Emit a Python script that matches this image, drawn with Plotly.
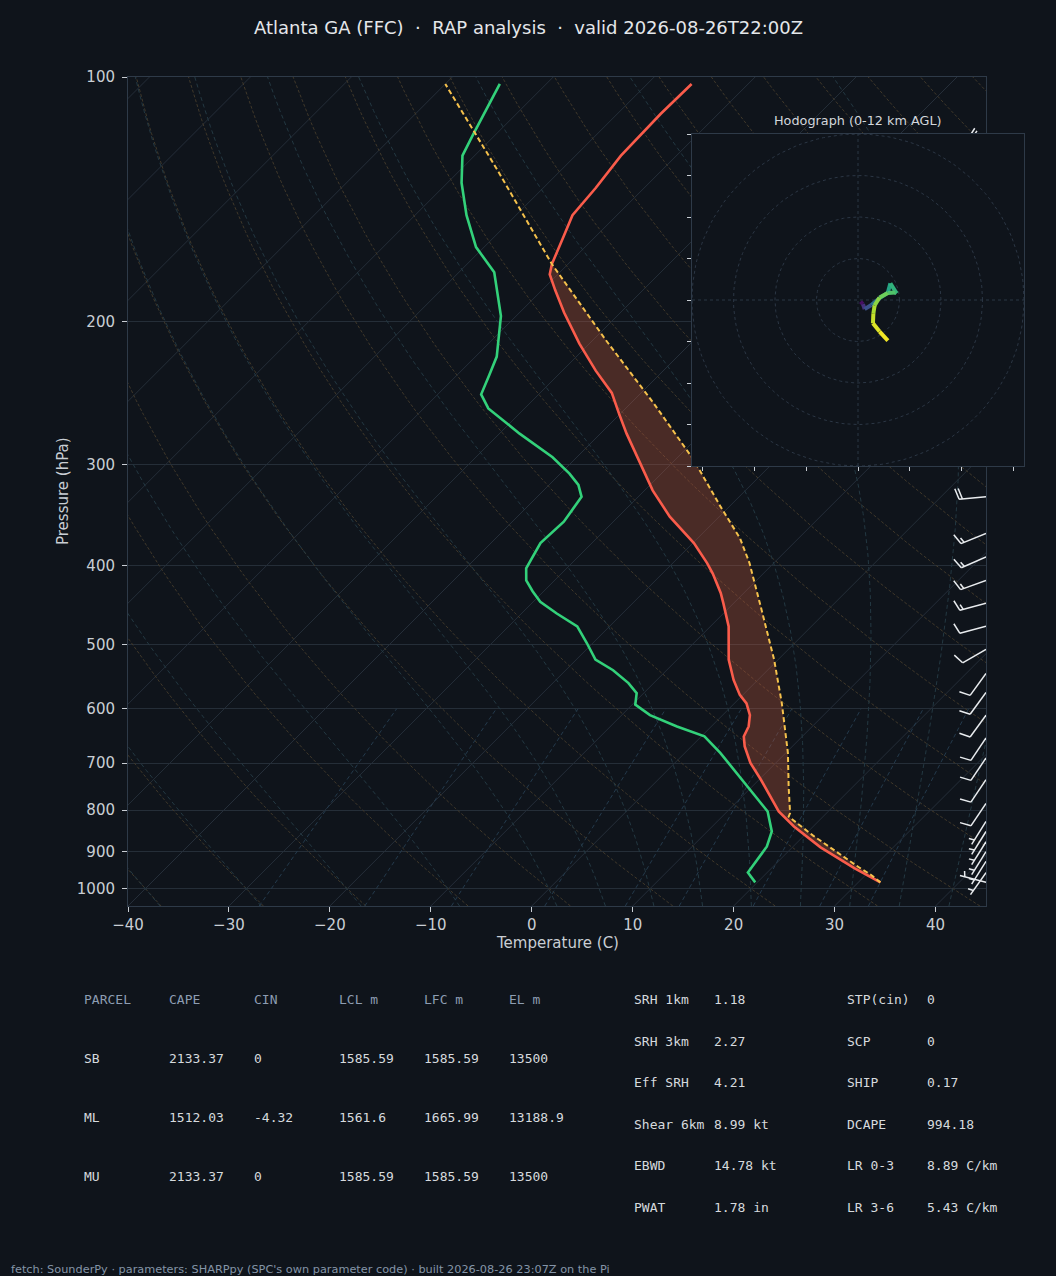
import numpy as np
import plotly.graph_objects as go
from plotly.colors import sample_colorscale

W, H = 1056, 1276
BG = '#0f141b'
FRAME = '#2e3a48'
TICK = '#c9ced4'
SANS = 'DejaVu Sans'
MONO = 'DejaVu Sans Mono'

# pixel boxes (left, top, right, bottom)
MAIN = (128, 77, 986, 906)
HODO = (692, 134, 1024, 466)
T_MIN, T_MAX = -40, 45
P_BOT, P_TOP = 1050, 100

# --- sounding ---
t_p = [982, 943, 889, 838, 803, 734, 700, 668, 649, 631, 611, 591, 577, 553, 522, 475, 445, 432, 409,
       397, 375, 348, 323, 299, 275, 260, 245, 230, 213, 195, 183, 175, 170, 157, 148, 137, 125, 111, 102]
t_t = [32.2, 28.2, 22.8, 18.1, 15.1, 10.2, 7.5, 5.3, 4.2, 3.7, 2.7, 1.2, -0.3, -2.4, -4.9, -8.2, -11.0, -12.3, -15.0,
       -16.6, -19.9, -24.9, -29.2, -33.1, -37.4, -40.1, -42.9, -46.7, -51.0, -55.6, -58.7, -60.8, -61.6, -63.2, -64.4,
       -64.8, -65.5, -65.7, -65.6]

d_p = [982, 955, 887, 850, 803, 748, 680, 649, 631, 611, 593, 574, 558, 538, 522, 498, 475, 458, 443, 430, 417,
       403, 375, 353, 329, 318, 308, 294, 275, 256, 246, 233, 221, 197, 174, 162, 148, 135, 125, 118, 102]
d_t = [19.8, 18.1, 17.4, 16.4, 14.0, 9.5, 3.5, 0.3, -3.4, -7.2, -9.7, -10.7, -12.5, -15.3, -18.1, -20.6, -23.2,
       -26.5, -29.3, -31.1, -32.8, -34.0, -35.1, -34.9, -35.6, -37.1, -39.1, -42.4, -48.0, -53.6, -55.7, -56.8,
       -57.9, -61.5, -66.5, -70.8, -74.9, -78.6, -81.2, -82.2, -84.6]

par_p = [982, 961, 940, 900, 860, 815, 807, 750, 680, 591, 522, 453, 425, 397, 370, 338, 296, 252, 211, 170, 130, 102]
par_t = [32.2, 30.5, 28.5, 24.8, 20.9, 16.6, 16.4, 13.7, 10.2, 4.7, -0.4, -6.6, -9.4, -12.4, -15.8, -20.9, -28.2,
         -37.8, -48.7, -61.6, -76.4, -90.0]
el_p = 170

# wind barbs (pressure hPa, direction deg, speed kt)
wb_p = [126, 150, 180, 215, 255, 292, 329, 365, 390, 417, 445, 475, 507, 543, 573, 611, 652, 690, 734, 785,
        826, 850, 875, 900, 925, 955, 982]
wb_dir = [320, 305, 290, 275, 268, 265, 265, 248, 246, 250, 255, 255, 240, 216, 216, 216, 214, 214, 214, 214,
          212, 212, 212, 212, 212, 215, 285]
wb_spd = [20, 20, 20, 20, 20, 20, 20, 15, 15, 15, 15, 10, 10, 10, 10, 10, 10, 10, 10, 10, 5, 5, 5, 5, 5, 5, 5]

# hodograph (height km, u, v)
hod_h = [0, 1.0, 2.5, 3.5, 5.5, 6.5, 7.5, 8.0, 8.3, 9.0, 9.6, 10.2, 10.8, 11.2, 11.6, 12.0]
hod_u = [0.6, 1.2, 1.6, 3.2, 5.3, 7.2, 7.8, 9.3, 9.0, 7.2, 5.2, 4.0, 3.7, 3.6, 5.2, 7.2]
hod_v = [-0.4, -1.0, -2.2, -1.2, 0.5, 1.8, 4.0, 1.6, 1.8, 1.7, 0.6, -1.3, -3.3, -5.6, -7.6, -9.8]
hod_rings = [10, 20, 30, 40]

# background lines
iso_t = list(range(-120, 41, 10))
dry_t0 = list(range(-40, 201, 10))
moist_t0 = [-40, -30, -20, -10, 0, 5, 10, 15, 20, 25, 30, 35, 40]
mix_w = [0.0004, 0.001, 0.002, 0.004, 0.007, 0.01, 0.016, 0.024, 0.032]
p_grid = [100, 200, 300, 400, 500, 600, 700, 800, 900, 1000]

# tables
parcel_head = ['PARCEL', 'CAPE', 'CIN', 'LCL m', 'LFC m', 'EL m']
parcel_name = ['SB', 'ML', 'MU']
cape = [2133.37, 1512.03, 2133.37]
cin = [0, -4.32, 0]
lcl = [1585.59, 1561.6, 1585.59]
lfc = [1585.59, 1665.99, 1585.59]
el = [13500, 13188.9, 13500]

kin_lab = ['SRH 1km', 'SRH 3km', 'Eff SRH', 'Shear 6km', 'EBWD', 'PWAT']
kin_val = [1.18, 2.27, 4.21, 8.99, 14.78, 1.78]
kin_unit = ['', '', '', ' kt', ' kt', ' in']
thm_lab = ['STP(cin)', 'SCP', 'SHIP', 'DCAPE', 'LR 0-3', 'LR 3-6']
thm_val = [0, 0, 0.17, 994.18, 8.89, 5.43]
thm_unit = ['', '', '', '', ' C/km', ' C/km']

# --- geometry ---
pw = MAIN[2] - MAIN[0]
ph = MAIN[3] - MAIN[1]
px_deg = pw / (T_MAX - T_MIN)
px_dec = ph / np.log10(P_BOT / P_TOP)
K = px_dec / px_deg  # degC shift per decade of pressure (45 deg isotherms)


def skew(t, p):
    return np.asarray(t, float) + K * np.log10(P_BOT / np.asarray(p, float))


def dom(box):
    return [box[0] / W, box[2] / W], [1 - box[3] / H, 1 - box[1] / H]


def moist_lapse(T, p):
    tc = T - 273.15
    es = 6.112 * np.exp(17.67 * tc / (tc + 243.5))
    rs = 0.622 * es / (p - es)
    return (287.04 * T + 2.501e6 * rs) / (p * (1005.7 + 2.501e6 ** 2 * rs * 0.622 / (287.04 * T * T)))


def moist_curves(t0):
    out = []
    for plist in (np.linspace(1000, 100, 181), np.linspace(1000, 1050, 11)):
        T = np.array(t0, float) + 273.15
        res = [T.copy()]
        for i in range(len(plist) - 1):
            p, dp = plist[i], plist[i + 1] - plist[i]
            k1 = moist_lapse(T, p)
            k2 = moist_lapse(T + 0.5 * dp * k1, p + 0.5 * dp)
            k3 = moist_lapse(T + 0.5 * dp * k2, p + 0.5 * dp)
            k4 = moist_lapse(T + dp * k3, p + dp)
            T = T + dp * (k1 + 2 * k2 + 2 * k3 + k4) / 6
            res.append(T.copy())
        out.append((plist, np.array(res) - 273.15))
    (pu, tu), (pd, td) = out
    p_all = np.concatenate([pd[::-1], pu[1:]])
    t_all = np.concatenate([td[::-1], tu[1:]])
    return p_all, t_all


def join(xs_list, ys_list):
    xs, ys = [], []
    for a, b in zip(xs_list, ys_list):
        xs += list(a) + [None]
        ys += list(b) + [None]
    return xs, ys


def barb(x0, y0, d, spd, L=27.0):
    r = np.deg2rad(d)
    s = np.array([np.sin(r), np.cos(r)])
    perp = np.array([s[1], -s[0]])
    base = np.array([x0, y0])
    tip = base + L * s
    segs = [(base, tip)]
    spd = 5 * int(round(spd / 5))
    nfull, rem = divmod(spd % 50, 10)
    sp = 0.125 * L
    off = 0.0
    for _ in range(nfull):
        a = tip - off * s
        segs.append((a, a + 0.4 * L * perp + 0.125 * L * s))
        off += sp
    if rem >= 5:
        if nfull == 0:
            off = 1.5 * sp
        a = tip - off * s
        segs.append((a, a + 0.2 * L * perp + 0.0625 * L * s))
    return [[a[0], b[0]] for a, b in segs], [[a[1], b[1]] for a, b in segs]


fig = go.Figure()

# isotherms
xs, ys = join([[t, t + K * np.log10(P_BOT / P_TOP)] for t in iso_t], [[P_BOT, P_TOP]] * len(iso_t))
fig.add_trace(go.Scatter(x=xs, y=ys, mode='lines', line=dict(color='#252e39', width=1), hoverinfo='skip'))

# dry adiabats
pl = np.geomspace(P_BOT, P_TOP, 60)
xs, ys = join([skew((t0 + 273.15) * (pl / 1000.0) ** 0.2857 - 273.15, pl) for t0 in dry_t0], [pl] * len(dry_t0))
fig.add_trace(go.Scatter(x=xs, y=ys, mode='lines', line=dict(color='#40382a', width=1, dash='3px,2px'),
                         hoverinfo='skip'))

# moist adiabats
mp, mt = moist_curves(moist_t0)
xs, ys = join([skew(mt[:, i], mp) for i in range(len(moist_t0))], [mp] * len(moist_t0))
fig.add_trace(go.Scatter(x=xs, y=ys, mode='lines', line=dict(color='#233842', width=1, dash='4px,3px'),
                         hoverinfo='skip'))

# mixing ratio lines
pm = np.linspace(P_BOT, 600, 20)
mix_x = []
for w in mix_w:
    e = w * pm / (0.622 + w)
    lg = np.log(e / 6.112)
    mix_x.append(skew(243.5 * lg / (17.67 - lg), pm))
xs, ys = join(mix_x, [pm] * len(mix_w))
fig.add_trace(go.Scatter(x=xs, y=ys, mode='lines', line=dict(color='#243a4c', width=1, dash='4px,3px'),
                         hoverinfo='skip'))

# CAPE shading between parcel and environment
pp = np.array(par_p, float)
tp = np.array(t_p, float)
m1 = pp >= el_p
m2 = tp >= el_p
fx = list(skew(np.array(par_t)[m1], pp[m1])) + list(skew(np.array(t_t)[m2], tp[m2])[::-1])
fy = list(pp[m1]) + list(tp[m2][::-1])
fig.add_trace(go.Scatter(x=fx, y=fy, mode='lines', fill='toself', fillcolor='rgba(190,88,62,0.34)',
                         line=dict(width=0), hoverinfo='skip'))

fig.add_trace(go.Scatter(x=skew(t_t, t_p), y=t_p, mode='lines', line=dict(color='#fa5c4b', width=2.6)))
fig.add_trace(go.Scatter(x=skew(d_t, d_p), y=d_p, mode='lines', line=dict(color='#33d17a', width=2.6)))
fig.add_trace(go.Scatter(x=skew(par_t, par_p), y=par_p, mode='lines',
                         line=dict(color='#f5c14c', width=2, dash='5px,3px')))

# wind barbs on a pixel-unit overlay of the main axes
bx, by = [], []
for p, d, s in zip(wb_p, wb_dir, wb_spd):
    y0 = np.log10(P_BOT / p) * px_dec
    sx, sy = barb(pw, y0, d, s)
    for a, b in zip(sx, sy):
        bx += a + [None]
        by += b + [None]
fig.add_trace(go.Scatter(x=bx, y=by, xaxis='x2', yaxis='y2', mode='lines',
                         line=dict(color='#e9ecef', width=1.5), hoverinfo='skip'))

# hodograph (its own subplot gets an opaque background over the skew-T)
R = 40
ang = np.linspace(0, 2 * np.pi, 181)
xs, ys = join([r * np.cos(ang) for r in hod_rings], [r * np.sin(ang) for r in hod_rings])
fig.add_trace(go.Scatter(x=xs, y=ys, xaxis='x3', yaxis='y3', mode='lines',
                         line=dict(color='#2b3644', width=1, dash='3px,3px'), hoverinfo='skip'))
fig.add_trace(go.Scatter(x=[-R, R, None, 0, 0], y=[0, 0, None, -R, R], xaxis='x3', yaxis='y3', mode='lines',
                         line=dict(color='#2b3644', width=1, dash='3px,3px'), hoverinfo='skip'))
for i in range(len(hod_h) - 1):
    c = sample_colorscale('Viridis', [(hod_h[i] + hod_h[i + 1]) / 2 / 12.0])[0]
    fig.add_trace(go.Scatter(x=hod_u[i:i + 2], y=hod_v[i:i + 2], xaxis='x3', yaxis='y3', mode='lines',
                             line=dict(color=c, width=4), hoverinfo='skip'))

mx, my = dom(MAIN)
hx, hy = dom(HODO)
axis_common = dict(showline=True, mirror=True, linecolor=FRAME, linewidth=1, ticks='outside', ticklen=5,
                   tickcolor=TICK, tickfont=dict(size=15, color=TICK, family=SANS), zeroline=False,
                   automargin=False)

fig.update_layout(
    width=W, height=H, margin=dict(l=0, r=0, t=0, b=0, pad=0, autoexpand=False),
    paper_bgcolor=BG, plot_bgcolor=BG, showlegend=False,
    font=dict(family=SANS, color=TICK),
    xaxis=dict(domain=mx, range=[T_MIN, T_MAX], tickvals=list(range(-40, 41, 10)), showgrid=False,
               **axis_common),
    yaxis=dict(domain=my, type='log', range=[np.log10(P_BOT), np.log10(P_TOP)], tickvals=p_grid,
               ticktext=[str(p) for p in p_grid], showgrid=True, gridcolor='#252e38', gridwidth=1,
               ticklabelstandoff=4, **axis_common),
    xaxis2=dict(overlaying='x', range=[0, pw], visible=False, anchor='y2', automargin=False),
    yaxis2=dict(overlaying='y', range=[0, ph], visible=False, anchor='x2', automargin=False),
    xaxis3=dict(domain=hx, range=[-R, R], anchor='y3', showgrid=False, zeroline=False, showline=True,
                mirror=True, linecolor=FRAME, ticks='outside', ticklen=4, tickcolor=TICK, automargin=False,
                tickvals=[-37.5, -25, -12.5, 0, 12.5, 25, 37.5], showticklabels=False),
    yaxis3=dict(domain=hy, range=[-R, R], anchor='x3', showgrid=False, zeroline=False, showline=True,
                mirror=True, linecolor=FRAME, ticks='outside', ticklen=4, tickcolor=TICK, automargin=False,
                tickvals=list(range(-40, 41, 10)), showticklabels=False),
)


def txt(x, y, s, size, color, family=SANS, anchor='left', **kw):
    return dict(x=x / W, y=1 - y / H, xref='paper', yref='paper', text=s, showarrow=False, xanchor=anchor,
                yanchor='middle', font=dict(size=size, color=color, family=family), **kw)


SEP = '\u00a0\u00a0·\u00a0\u00a0'
ann = [
    txt(528, 27, 'Atlanta GA (FFC)' + SEP + 'RAP analysis' + SEP + 'valid 2026-08-26T22:00Z', 18, '#e4e7ea',
        anchor='center'),
    txt(557, 943, 'Temperature (C)', 15, TICK, anchor='center'),
    txt(63, 491, 'Pressure (hPa)', 15, TICK, anchor='center', textangle=-90),
    txt(858, 120, 'Hodograph (0-12 km AGL)', 12.8, '#d3d7dc', anchor='center'),
    txt(9, 1269, "fetch: SounderPy · parameters: SHARPpy (SPC's own parameter code) · built 2026-08-26 23:07Z on the Pi",
        11.3, '#8494a7'),
]

col_x = [82, 167, 252, 337, 422, 507]
row_y = [999, 1058, 1117, 1176]
for cx, h in zip(col_x, parcel_head):
    ann.append(txt(cx, row_y[0], h, 13, '#8d9db2', MONO))
for i, name in enumerate(parcel_name):
    vals = [name] + [f'{v:g}' for v in (cape[i], cin[i], lcl[i], lfc[i], el[i])]
    for cx, v in zip(col_x, vals):
        ann.append(txt(cx, row_y[i + 1], v, 13, '#d6dade', MONO))

r_y = [999, 1041, 1082, 1124, 1165, 1207]
for i, y in enumerate(r_y):
    ann.append(txt(632, y, kin_lab[i], 13, '#d6dade', MONO))
    ann.append(txt(712, y, f'{kin_val[i]:g}{kin_unit[i]}', 13, '#d6dade', MONO))
    ann.append(txt(845, y, thm_lab[i], 13, '#d6dade', MONO))
    ann.append(txt(925, y, f'{thm_val[i]:g}{thm_unit[i]}', 13, '#d6dade', MONO))

fig.update_layout(annotations=ann)
fig.write_html('out.html', config={'displayModeBar': False},
               post_script="document.body.style.margin='0';document.body.style.overflow='hidden';")
